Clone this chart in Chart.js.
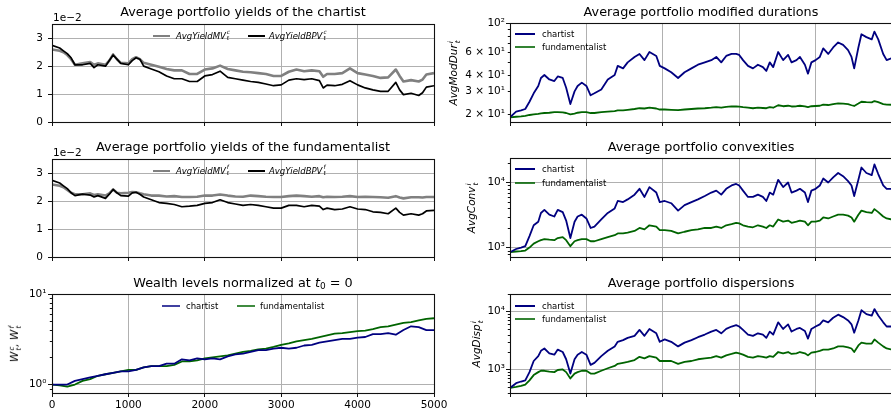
<!DOCTYPE html>
<html><head><meta charset="utf-8">
<script src="https://cdn.jsdelivr.net/npm/chart.js@4.4.1/dist/chart.umd.min.js"></script>
<style>
html,body{margin:0;padding:0;width:891px;height:414px;overflow:hidden;background:#fff;font-family:"DejaVu Sans",sans-serif;color:#000;position:relative}
canvas{position:absolute}
.t{position:absolute;font-size:12.8px;line-height:14px;text-align:center;white-space:nowrap}
.t sub{font-size:0.7em;line-height:0;vertical-align:-0.25em}
.lg{position:absolute;font-size:8.5px;line-height:10px;height:10px;white-space:nowrap;display:flex;align-items:center}
.lg i{font-style:italic}
.sw{display:inline-block;height:0;border-top:2px solid}
.yl{position:absolute;font-size:10.5px;line-height:12px;font-style:italic;white-space:nowrap;transform:translate(-50%,-50%) rotate(-90deg)}
.ss{display:inline-block;vertical-align:middle;font-size:0.68em;line-height:1;text-align:left;margin-left:1px}
.off{position:absolute;font-size:10.5px;line-height:12px;white-space:nowrap}
</style></head>
<body>
<script>
// ---------------- data ----------------
const xTicks = [0, 1000, 2000, 3000, 4000, 5000];
const yieldTicks = [0, 1, 2, 3];

// yields (units of 1e-2)
const tYield = [0,100,150,200,250,300,400,500,550,600,700,750,800,850,900,1000,1050,1100,1150,1200,1300,1400,1500,1600,1700,1800,1900,2000,2100,2200,2300,2400,2500,2600,2700,2800,2900,3000,3100,3200,3300,3400,3500,3550,3600,3700,3800,3900,4000,4100,4200,4300,4400,4500,4550,4600,4700,4800,4850,4900,5000];
const yieldMVc  = [2.6,2.55,2.5,2.4,2.25,2.05,2.1,2.15,2.05,2.1,2.05,2.2,2.42,2.25,2.12,2.1,2.25,2.32,2.25,2.12,2.05,1.98,1.9,1.85,1.85,1.72,1.72,1.88,1.92,2.02,1.9,1.85,1.8,1.78,1.75,1.72,1.65,1.65,1.8,1.88,1.82,1.85,1.82,1.62,1.72,1.72,1.75,1.92,1.75,1.7,1.65,1.58,1.6,1.88,1.65,1.45,1.5,1.45,1.52,1.7,1.75];
const yieldBPVc = [2.75,2.65,2.55,2.45,2.3,2.05,2.05,2.1,1.95,2.05,2.0,2.2,2.4,2.25,2.1,2.05,2.2,2.3,2.25,2.0,1.9,1.8,1.65,1.55,1.55,1.45,1.45,1.65,1.7,1.82,1.6,1.55,1.5,1.45,1.42,1.36,1.3,1.33,1.5,1.55,1.52,1.55,1.48,1.22,1.32,1.3,1.35,1.48,1.33,1.22,1.15,1.1,1.1,1.42,1.15,0.98,1.03,0.95,1.05,1.25,1.3];
const yieldMVf  = [2.6,2.55,2.5,2.4,2.3,2.25,2.25,2.28,2.22,2.25,2.2,2.28,2.42,2.3,2.28,2.3,2.33,2.32,2.28,2.25,2.2,2.2,2.17,2.18,2.15,2.15,2.16,2.2,2.2,2.24,2.2,2.17,2.16,2.2,2.18,2.16,2.15,2.15,2.18,2.2,2.18,2.16,2.18,2.14,2.16,2.15,2.16,2.18,2.15,2.16,2.15,2.14,2.12,2.18,2.13,2.1,2.14,2.14,2.13,2.15,2.15];
const yieldBPVf = [2.75,2.65,2.55,2.45,2.3,2.2,2.25,2.22,2.15,2.2,2.1,2.25,2.42,2.3,2.2,2.18,2.3,2.32,2.25,2.15,2.05,1.95,1.92,1.88,1.8,1.82,1.85,1.92,1.95,2.05,1.95,1.9,1.85,1.88,1.85,1.8,1.75,1.75,1.85,1.85,1.8,1.85,1.82,1.7,1.75,1.7,1.72,1.8,1.72,1.7,1.62,1.6,1.55,1.75,1.6,1.5,1.55,1.5,1.55,1.65,1.67];

// wealth
const tWealth = [0,100,200,300,400,500,600,700,800,900,1000,1100,1200,1300,1400,1500,1600,1700,1800,1900,2000,2100,2200,2300,2400,2500,2600,2700,2800,2900,3000,3100,3200,3300,3400,3500,3600,3700,3800,3900,4000,4100,4200,4300,4400,4500,4600,4700,4800,4900,5000];
const wealthC = [1.0,1.0,1.0,1.1,1.15,1.2,1.25,1.3,1.35,1.4,1.4,1.45,1.55,1.6,1.6,1.7,1.7,1.9,1.85,1.95,1.9,1.95,1.9,2.05,2.15,2.2,2.3,2.4,2.4,2.5,2.55,2.5,2.55,2.7,2.75,2.9,3.0,3.1,3.2,3.2,3.3,3.35,3.6,3.6,3.7,3.55,4.0,4.4,4.3,4.0,4.0];
const wealthF = [1.0,0.98,0.95,1.0,1.1,1.15,1.25,1.3,1.35,1.4,1.45,1.45,1.55,1.6,1.6,1.6,1.65,1.8,1.8,1.85,1.95,2.0,2.05,2.1,2.2,2.3,2.35,2.45,2.5,2.6,2.75,2.85,3.0,3.1,3.2,3.35,3.5,3.65,3.7,3.8,3.9,3.95,4.1,4.3,4.4,4.6,4.8,4.9,5.1,5.3,5.4];

// right column series
const tRight = [0,80,145,200,255,310,370,405,450,515,580,625,690,735,790,845,885,940,1000,1055,1105,1195,1280,1370,1410,1480,1540,1630,1695,1760,1825,1915,1960,2025,2110,2200,2285,2375,2460,2550,2635,2700,2765,2830,2900,2960,3000,3050,3115,3180,3245,3310,3355,3400,3445,3510,3575,3640,3685,3750,3795,3860,3900,3945,4000,4055,4100,4165,4230,4295,4360,4425,4470,4505,4560,4600,4665,4735,4770,4820,4885,4930,5000];
const durC = [19,21,21.5,22,25,29,33,38,40,37,36,39,38,32,24,30,33,35,33,28,29,31,37,40,47,45,50,55,58,52,60,56,47,45,42,38,42,45,48,50,52,55,50,56,58,58,57,52,47,45,48,46,43,50,46,60,52,57,50,52,55,48,41,50,52,55,64,58,65,71,68,62,55,45,65,82,78,75,86,75,58,52,54];
const durF = [19,19.2,19.3,19.5,19.8,20,20.2,20.4,20.5,20.6,20.8,20.8,20.7,20.5,20.0,20.3,20.6,20.8,20.8,20.5,20.5,20.8,21,21.2,21.5,21.5,21.7,22,22.3,22.2,22.5,22.2,21.8,21.8,21.7,21.6,21.8,22,22.2,22.3,22.5,22.7,22.5,22.8,23,23,22.9,22.7,22.5,22.3,22.5,22.4,22.3,22.7,22.5,23.5,23.1,23.3,23,23.1,23.3,23,22.7,23.1,23.2,23.3,23.8,23.6,24,24.3,24.2,24,23.5,23.2,24.2,25,24.8,24.7,25.3,24.8,24,23.8,23.7];
const convC = [850,950,1000,1050,1500,2200,2500,3400,3800,3200,3000,3800,3500,2600,1400,2500,3000,3200,2800,2000,2100,2700,3400,4000,5200,5000,5500,6500,8000,6000,8500,7000,5000,5200,4800,3700,4500,5000,5500,6200,7000,7500,6500,8000,9000,9500,9000,7500,6000,6000,6500,6000,5200,7000,6500,11000,8500,10000,7000,7500,8000,7000,5000,7500,8000,9000,11500,10000,12000,14000,12500,10500,9000,6200,11000,17000,14000,13000,19000,13500,9000,8000,8000];
const convF = [850,870,880,900,1000,1150,1250,1300,1350,1320,1300,1400,1450,1300,1050,1250,1300,1350,1350,1250,1250,1350,1450,1550,1650,1650,1700,1800,2000,1900,2200,2100,1850,1850,1800,1650,1750,1850,1900,2000,2000,2100,2000,2200,2300,2400,2350,2200,2100,2050,2200,2100,2000,2200,2100,2700,2500,2600,2400,2500,2600,2500,2200,2500,2500,2600,2900,2800,3000,3200,3200,3100,2900,2500,3200,3700,3500,3400,3900,3500,3000,2800,2700];
const dispC = [480,580,620,650,900,1400,1700,2100,2300,1900,1800,2200,2000,1500,850,1500,1800,2000,1800,1200,1300,1700,2100,2500,3000,3200,3500,3800,4800,3800,5000,4200,3000,3300,3000,2500,2900,3200,3600,4000,4500,4800,4200,5000,5500,5800,5500,4800,4000,3800,4200,4000,3500,4500,4000,6500,5000,6000,4500,5000,5200,4600,3400,5000,5500,6000,7000,6500,7800,8800,8000,7000,6000,4300,7000,10500,9000,8500,11000,8500,6500,5500,5500];
const dispF = [480,500,520,550,650,800,900,950,950,920,900,980,1000,900,700,850,900,950,950,850,850,950,1050,1150,1250,1300,1350,1450,1650,1550,1700,1600,1400,1400,1400,1250,1350,1400,1500,1550,1600,1700,1600,1750,1850,1950,1900,1800,1650,1600,1700,1650,1600,1700,1650,2000,1900,2000,1850,1900,2000,1900,1750,1950,2000,2100,2200,2200,2300,2500,2500,2400,2300,2000,2600,2900,2800,2800,3300,2900,2500,2300,2200];

// log tick labels
const durLabels  = [[100,'10²'],[60,'6 × 10¹'],[40,'4 × 10¹'],[30,'3 × 10¹'],[20,'2 × 10¹']];
const decLabels  = [[1000,'10³'],[10000,'10⁴']];
const wealthLabels = [[1,'10⁰'],[10,'10¹']];

// ---------------- drawing ----------------
const BLUE = '#000080', GREEN = '#006400', GRAY = '#808080', BLACK = '#000000';
const GRID = '#b0b0b0', AXIS = '#111111';
const L = 55, T = 10, R = 20, B = 20, PW = 382, PH = 99;
const FONT = {family: '"DejaVu Sans", sans-serif', size: 10.5};

function pts(t, v) { return t.map((x, i) => ({x: x, y: v[i]})); }

function logTicks(min, max) {
  const out = [];
  for (let d = Math.floor(Math.log10(min)); d <= Math.ceil(Math.log10(max)); d++) {
    for (let m = 1; m <= 9; m++) {
      const v = m * Math.pow(10, d);
      if (v >= min * 0.9999 && v <= max * 1.0001) out.push({value: v, major: m === 1});
    }
  }
  return out;
}
function labelFor(list, v) {
  for (const [k, s] of list) if (Math.abs(v - k) / k < 1e-6) return s;
  return '';
}

const framePlugin = {
  id: 'frame',
  afterDraw(chart) {
    const a = chart.chartArea, ctx = chart.ctx, ys = chart.scales.y;
    ctx.save();
    ctx.strokeStyle = AXIS; ctx.lineWidth = 1;
    ys.ticks.forEach(tk => {
      if (!tk.major) {
        const py = Math.round(ys.getPixelForValue(tk.value)) + 0.5;
        ctx.beginPath(); ctx.moveTo(a.left - 2.2, py); ctx.lineTo(a.left, py); ctx.stroke();
      }
    });
    ctx.lineWidth = 1.1;
    ctx.strokeRect(Math.round(a.left) + 0.5, Math.round(a.top) + 0.5, Math.round(a.right - a.left), Math.round(a.bottom - a.top));
    ctx.restore();
  }
};

function panel(plotLeft, plotTop, datasets, yScale, showX) {
  const c = document.createElement('canvas');
  c.width = PW + L + R; c.height = PH + T + B;
  c.style.left = (plotLeft - L) + 'px'; c.style.top = (plotTop - T) + 'px';
  document.body.appendChild(c);
  yScale.afterFit = s => { s.width = L; };
  yScale.border = {display: false};
  new Chart(c, {
    type: 'line',
    data: {datasets: datasets},
    options: {
      responsive: false, animation: false, devicePixelRatio: 1,
      layout: {padding: {top: T, right: R, left: 0, bottom: 0}},
      plugins: {legend: {display: false}, title: {display: false}, tooltip: {enabled: false}},
      elements: {point: {radius: 0}, line: {tension: 0, borderJoinStyle: 'round'}},
      scales: {
        x: {
          type: 'linear', min: 0, max: 5000,
          afterBuildTicks: s => { s.ticks = xTicks.map(v => ({value: v, major: true})); },
          afterFit: s => { s.height = B; },
          border: {display: false},
          grid: {color: GRID, lineWidth: 1, tickLength: 4, tickColor: AXIS, drawTicks: true},
          ticks: {display: showX, font: FONT, color: '#000', padding: 2, maxRotation: 0, autoSkip: false,
                  callback: v => String(v)}
        },
        y: yScale
      }
    },
    plugins: [framePlugin]
  });
}

function linYield() {
  return {
    type: 'linear', min: 0, max: 3.5,
    afterBuildTicks: s => { s.ticks = yieldTicks.map(v => ({value: v, major: true})); },
    grid: {color: GRID, lineWidth: 1, tickLength: 4, tickColor: AXIS},
    ticks: {font: FONT, color: '#000', padding: 5, autoSkip: false, callback: v => String(v)}
  };
}
function logAxis(min, max, labels, pad) {
  return {
    type: 'logarithmic', min: min, max: max,
    afterBuildTicks: s => { s.ticks = logTicks(min, max); },
    grid: {
      color: ctx => (ctx.tick && ctx.tick.major) ? GRID : 'rgba(0,0,0,0)',
      tickColor: ctx => (ctx.tick && ctx.tick.major) ? AXIS : 'rgba(0,0,0,0)',
      lineWidth: 1, tickLength: 4
    },
    ticks: {font: FONT, color: '#000', padding: pad, autoSkip: false, callback: v => labelFor(labels, v)}
  };
}

const line = (label, t, v, color, w) => ({label: label, data: pts(t, v), borderColor: color, borderWidth: w, fill: false});

// left column
panel(52, 23, [line('AvgYieldBPV c', tYield, yieldBPVc, BLACK, 1.7), line('AvgYieldMV c', tYield, yieldMVc, GRAY, 2.6)], linYield(), false);
panel(52, 158, [line('AvgYieldBPV f', tYield, yieldBPVf, BLACK, 1.7), line('AvgYieldMV f', tYield, yieldMVf, GRAY, 2.6)], linYield(), false);
panel(52, 294, [line('chartist', tWealth, wealthC, BLUE, 1.8), line('fundamentalist', tWealth, wealthF, GREEN, 1.8)], logAxis(0.807, 10, wealthLabels, 1.5), true);
// right column
panel(510, 23, [line('chartist', tRight, durC, BLUE, 1.8), line('fundamentalist', tRight, durF, GREEN, 1.8)], logAxis(17.5, 100, durLabels, 1), false);
panel(510, 158, [line('chartist', tRight, convC, BLUE, 1.8), line('fundamentalist', tRight, convF, GREEN, 1.8)], logAxis(716, 23800, decLabels, 1), false);
panel(510, 294, [line('chartist', tRight, dispC, BLUE, 1.8), line('fundamentalist', tRight, dispF, GREEN, 1.8)], logAxis(393, 20000, decLabels, 1), false);

// ---------------- text overlays ----------------
function add(html) { document.body.insertAdjacentHTML('beforeend', html); }
function title(left, top, txt) { add(`<div class="t" style="left:${left}px;top:${top - 18}px;width:${PW}px">${txt}</div>`); }
title(52, 23, 'Average portfolio yields of the chartist');
title(52, 158, 'Average portfolio yields of the fundamentalist');
title(52, 294, 'Wealth levels normalized at <i>t</i><sub>0</sub> = 0');
title(510, 23, 'Average portfolio modified durations');
title(510, 158, 'Average portfolio convexities');
title(510, 294, 'Average portfolio dispersions');

add(`<div class="off" style="left:53px;top:11px">1e−2</div>`);
add(`<div class="off" style="left:53px;top:146px">1e−2</div>`);

function legItem(x, y, color, sw, gap, html) {
  add(`<div class="lg" style="left:${x}px;top:${y - 5}px"><span class="sw" style="width:${sw}px;border-color:${color};margin-right:${gap}px"></span>${html}</div>`);
}
const ital = (a, s) => `<i>${a}</i><span class="ss"><i>${s}</i><br><i>t</i></span>`;
legItem(153, 35.5, GRAY, 17, 6, ital('AvgYieldMV', 'c'));
legItem(248, 35.5, BLACK, 17, 4, ital('AvgYieldBPV', 'c'));
legItem(153, 170.5, GRAY, 17, 6, ital('AvgYieldMV', 'f'));
legItem(248, 170.5, BLACK, 17, 4, ital('AvgYieldBPV', 'f'));
legItem(162, 305.7, 'rgba(0,0,128,0.75)', 18, 6, 'chartist');
legItem(237, 305.7, 'rgba(0,100,0,0.75)', 18, 5, 'fundamentalist');
[[34.3, 46.7], [169.3, 182.7], [305.7, 319]].forEach(([a, b]) => {
  legItem(515, a, BLUE, 20, 7, 'chartist');
  legItem(515, b, 'rgba(0,100,0,0.8)', 20, 7, 'fundamentalist');
});

function ylab(cx, cy, html) { add(`<div class="yl" style="left:${cx}px;top:${cy}px">${html}</div>`); }
ylab(454, 72.5, 'AvgModDur<span class="ss">i<br>t</span>');
ylab(472, 207.5, 'AvgConv<span class="ss">i<br>t</span>');
ylab(477, 343.5, 'AvgDisp<span class="ss">i<br>t</span>');
ylab(15, 343.5, 'W<span class="ss">c<br>t</span>, W<span class="ss">f<br>t</span>');
</script>
</body></html>
